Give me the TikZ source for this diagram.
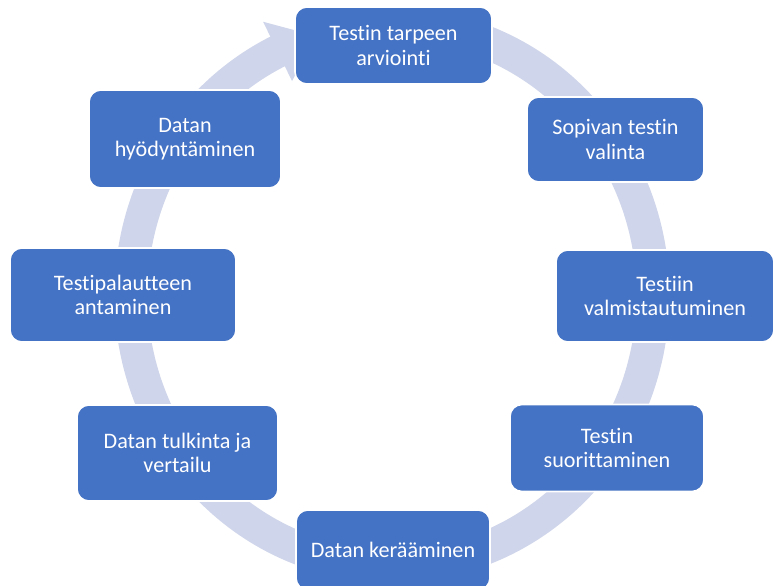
\documentclass[tikz,border=0pt]{standalone}
\usepackage{fontspec}
\setmainfont{Carlito}[Ligatures={NoCommon,NoContextual}]
\usetikzlibrary{calc}
\definecolor{boxblue}{HTML}{4472C4}
\definecolor{ringblue}{HTML}{CFD5EA}
\tikzset{
  stepbox/.style 2 args={
    draw=white, line width=1.2pt, fill=boxblue, rounded corners=9pt,
    text=white, align=center, inner sep=2pt,
    minimum width={#1*0.75pt}, minimum height={#2*0.75pt},
    font=\fontsize{16.6pt}{18.2pt}\selectfont
  },
  ring/.style={draw=ringblue, line width=24.75pt},
}
\begin{document}
\begin{tikzpicture}[x=0.75pt,y=-0.75pt]
\useasboundingbox (0,0) rectangle (774,585);
% cycle ring (centre and radii of the band's middle line)
\coordinate (c) at (392,295);
\path (c) ++(-80:261 and 271) coordinate (ringstart);
\path (c) ++(244:294 and 304) coordinate (barbout);
\path (c) ++(244:228 and 238) coordinate (barbin);
\path (c) ++(253:261 and 271) coordinate (tip);
\draw[ring] (ringstart) arc[start angle=-80, end angle=244.3, x radius=261, y radius=271];
\fill[ringblue] (barbout) -- (tip) -- (barbin) -- cycle;
% process steps
\node[stepbox={197}{77}] (s1) at (393.5,45.5) {Testin tarpeen\\arviointi};
\node[stepbox={177}{85}] (s2) at (615.5,139.5) {Sopivan testin\\valinta};
\node[stepbox={218}{92}] (s3) at (665,296) {Testiin\\valmistautuminen};
\node[stepbox={194}{87}] (s4) at (607,448) {Testin\\suorittaminen};
\node[stepbox={194}{80}] (s5) at (393,550) {Datan kerääminen};
\node[stepbox={201}{96}] (s6) at (177.5,453) {Datan tulkinta ja\\vertailu};
\node[stepbox={226}{94}] (s7) at (123,295) {Testipalautteen\\antaminen};
\node[stepbox={192}{98}] (s8) at (185,139) {Datan\\hyödyntäminen};
\end{tikzpicture}
\end{document}
